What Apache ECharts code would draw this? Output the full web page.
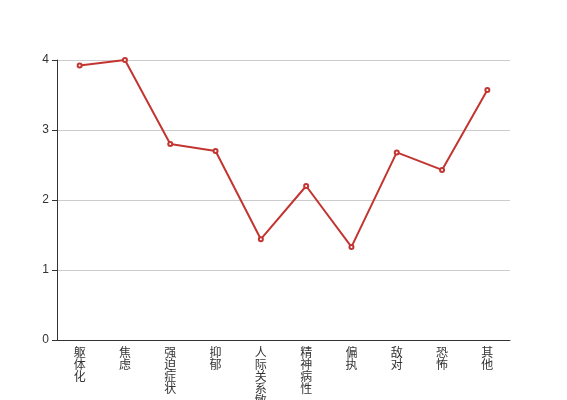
<!DOCTYPE html>
<html><head><meta charset="utf-8">
<script src="https://cdn.jsdelivr.net/npm/echarts@6/dist/echarts.min.js"></script>
<style>html,body{margin:0;padding:0;background:#fff}#c{width:567px;height:400px}</style>
</head><body><div id="c"></div>
<script>
const categories = ['躯体化','焦虑','强迫症状','抑郁','人际关系敏感','精神病性','偏执','敌对','恐怖','其他'];
const values = [3.92, 4.00, 2.80, 2.70, 1.44, 2.20, 1.33, 2.68, 2.43, 3.57];
const yTicks = [0, 1, 2, 3, 4];

const chart = echarts.init(document.getElementById('c'));
chart.setOption({
  animation: false,
  textStyle: {fontFamily: '"Liberation Sans", "Noto Sans CJK SC", sans-serif'},
  grid: {left: 57, right: 57, top: 60, bottom: 60, containLabel: false, outerBoundsMode: 'none'},
  xAxis: {
    type: 'category',
    data: categories,
    boundaryGap: true,
    axisLine: {lineStyle: {color: '#333'}},
    axisTick: {lineStyle: {color: '#333'}},
    axisLabel: {
      color: '#333', fontSize: 12, interval: 0, lineHeight: 12, margin: 8,
      formatter: v => v.split('').join('\n')
    }
  },
  yAxis: {
    type: 'value',
    min: yTicks[0], max: yTicks[yTicks.length - 1], interval: 1,
    axisLine: {show: true, lineStyle: {color: '#333'}},
    axisTick: {show: true, lineStyle: {color: '#333'}},
    axisLabel: {color: '#333', fontSize: 12},
    splitLine: {lineStyle: {color: '#ccc'}}
  },
  series: [{
    type: 'line',
    data: values,
    symbol: 'emptyCircle',
    symbolSize: 4,
    itemStyle: {color: '#c23531'},
    lineStyle: {width: 2, color: '#c23531'}
  }]
});
</script></body></html>
